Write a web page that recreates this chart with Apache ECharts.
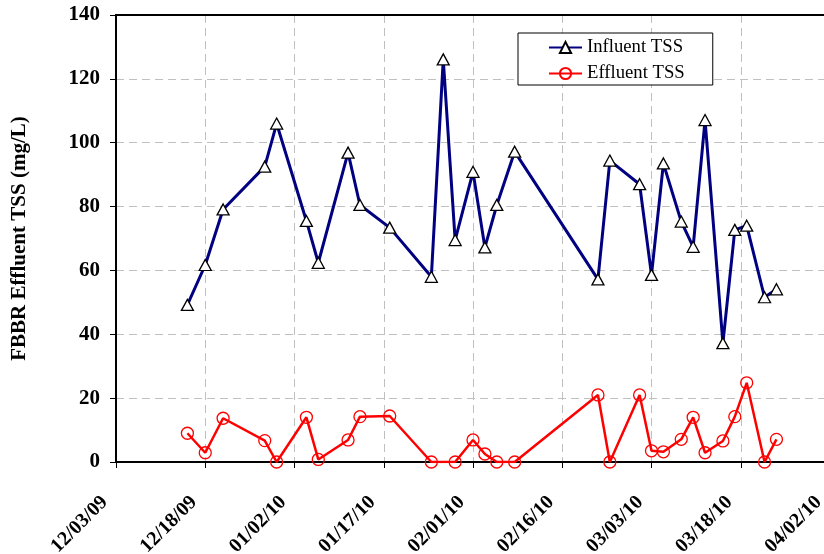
<!DOCTYPE html>
<html>
<head>
<meta charset="utf-8">
<script src="https://cdn.jsdelivr.net/npm/echarts@6/dist/echarts.min.js"></script>
<style>html,body{margin:0;padding:0;background:#fff}#c{width:824px;height:554px}</style>
</head>
<body>
<div id="c"></div>
<script>
const startDate = '12/03/09';
const dates = ['12/15/09','12/18/09','12/21/09','12/28/09','12/30/09','01/04/10','01/06/10','01/11/10','01/13/10','01/18/10',
  '01/25/10','01/27/10','01/29/10','02/01/10','02/03/10','02/05/10','02/08/10','02/22/10','02/24/10','03/01/10',
  '03/03/10','03/05/10','03/08/10','03/10/10','03/12/10','03/15/10','03/17/10','03/19/10','03/22/10','03/24/10'];
const influent = [49.2,61.7,79.1,92.5,106,75.5,62.4,96.9,80.5,73.4,
  58.0,126.1,69.5,90.9,67.2,80.5,97.2,57.2,94.4,87.0,
  58.6,93.5,75.3,67.4,107.1,37.2,72.7,74.0,51.6,54.1];
const effluent = [9.0,2.9,13.7,6.7,0,14.0,0.8,6.9,14.2,14.4,
  0,null,0,6.9,2.5,0,0,21.0,0,21.0,
  3.5,3.2,7.1,14.0,2.9,6.6,14.2,24.8,0,7.1];
const yTicks = [0,20,40,60,80,100,120,140];
const xTickDays = [0,15,30,45,60,75,90,105,120];

function toUTC(s){const p=s.split('/');return Date.UTC(2000+ +p[2], +p[0]-1, +p[1]);}
const DAY=86400000, t0=toUTC(startDate);
function dayOf(s){return Math.round((toUTC(s)-t0)/DAY);}
function fmt(d){const dt=new Date(t0+d*DAY);const mm=String(dt.getUTCMonth()+1).padStart(2,'0');
  const dd=String(dt.getUTCDate()).padStart(2,'0');const yy=String(dt.getUTCFullYear()%100).padStart(2,'0');return mm+'/'+dd+'/'+yy;}

const FONT = "'Liberation Serif','Times New Roman',serif";
const chart = echarts.init(document.getElementById('c'), null, {renderer:'canvas'});
chart.setOption({
  animation:false,
  backgroundColor:'#fff',
  grid:{left:116, top:15, width:714, height:447, containLabel:false, outerBoundsMode:'none',
    show:true, borderColor:'#000', borderWidth:2, backgroundColor:'transparent'},
  legend:{
    orient:'vertical', left:518, top:33,
    backgroundColor:'#fff', borderColor:'#000', borderWidth:1,
    padding:[5,28,2,30], itemGap:7, itemWidth:33, itemHeight:14,
    textStyle:{fontFamily:FONT, fontSize:18.7, color:'#000', lineHeight:18},
    data:['Influent TSS','Effluent TSS']
  },
  xAxis:[{
    type:'value', min:xTickDays[0], max:xTickDays[xTickDays.length-1], interval:15,
    axisLine:{show:true, onZero:false, lineStyle:{color:'#000', width:2}},
    axisTick:{show:true, inside:false, length:6, lineStyle:{color:'#000', width:1}},
    splitLine:{show:true, lineStyle:{color:'#c0c0c0', type:[8,5], width:1}},
    axisLabel:{rotate:45, margin:26, padding:[0,16,0,0], fontFamily:FONT, fontWeight:'bold', fontSize:20, color:'#000',
      formatter:function(v){return fmt(v);}}
  },{
    type:'value', position:'top', min:xTickDays[0], max:xTickDays[xTickDays.length-1], interval:15,
    axisLine:{show:true, onZero:false, lineStyle:{color:'#000', width:2}},
    axisTick:{show:false}, axisLabel:{show:false}, splitLine:{show:false}
  }],
  yAxis:{
    type:'value', min:yTicks[0], max:yTicks[yTicks.length-1], interval:20,
    name:'FBBR Effluent TSS (mg/L)', nameLocation:'middle', nameGap:86, nameRotate:90,
    nameTextStyle:{fontFamily:FONT, fontWeight:'bold', fontSize:21, color:'#000'},
    axisLine:{show:true, lineStyle:{color:'#000', width:2}},
    axisTick:{show:true, inside:false, length:6, lineStyle:{color:'#000', width:1}},
    splitLine:{show:true, lineStyle:{color:'#c0c0c0', type:[8,5], width:1}},
    axisLabel:{margin:16, fontFamily:FONT, fontWeight:'bold', fontSize:21, color:'#000'}
  },
  series:[
    {name:'Influent TSS', type:'line', xAxisIndex:0, data:dates.map((d,i)=>[dayOf(d), influent[i]]),
      lineStyle:{color:'#000080', width:3}, itemStyle:{color:'#fff', borderColor:'#000', borderWidth:1.3},
      symbol:'triangle', symbolSize:[12,11], showAllSymbol:true, z:3},
    {name:'Effluent TSS', type:'line', xAxisIndex:0, connectNulls:true, data:dates.map((d,i)=>[dayOf(d), effluent[i]]),
      lineStyle:{color:'#ff0000', width:2.5}, itemStyle:{color:'rgba(255,255,255,0)', borderColor:'#ff0000', borderWidth:1.3},
      symbol:'circle', symbolSize:12, showAllSymbol:true, z:3}
  ]
});
</script>
</body>
</html>
